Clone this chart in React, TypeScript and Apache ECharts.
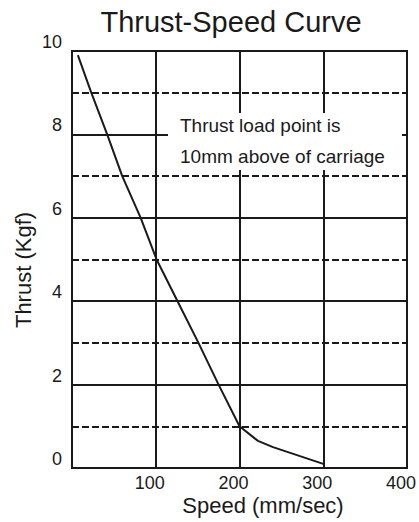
import React, { useEffect, useRef } from "react";
import * as echarts from "echarts";

const TITLE = "Thrust-Speed Curve";
const X_NAME = "Speed (mm/sec)";
const Y_NAME = "Thrust (Kgf)";
const NOTE_LINES = ["Thrust load point is", "10mm above of carriage"];

const speeds = [7, 23, 42, 60, 82, 101, 126, 151, 175, 200, 222, 240, 300];
const thrusts = [9.9, 9, 8, 7, 6, 5, 4, 3, 2, 1, 0.65, 0.5, 0.1];

const X_MIN = 0;
const X_MAX = 400;
const X_STEP = 100;
const Y_MIN = 0;
const Y_MAX = 10;
const Y_STEP = 2;

const INK = "#1a1a1a";
const FONT = "'Liberation Sans', Arial, sans-serif";

export default function App() {
  const ref = useRef<HTMLDivElement>(null);

  useEffect(() => {
    if (!ref.current) return;
    const chart = echarts.init(ref.current, undefined, { renderer: "svg" });
    const data = speeds.map((s, i) => [s, thrusts[i]]);
    chart.setOption({
      animation: false,
      backgroundColor: "#ffffff",
      textStyle: { fontFamily: FONT },
      title: {
        text: TITLE,
        left: 226,
        top: 2,
        textAlign: "center",
        textStyle: { fontSize: 29, fontWeight: "normal", color: INK, fontFamily: FONT },
      },
      grid: {
        left: 72,
        right: 12,
        top: 51,
        bottom: 54,
        containLabel: false,
        outerBoundsMode: "none",
        show: true,
        borderColor: INK,
        borderWidth: 2,
        backgroundColor: "transparent",
      },
      xAxis: {
        type: "value",
        min: X_MIN,
        max: X_MAX,
        interval: X_STEP,
        axisLine: { show: true, lineStyle: { color: INK, width: 2 } },
        axisTick: { show: false },
        axisLabel: {
          showMinLabel: false,
          fontSize: 18,
          lineHeight: 16,
          color: INK,
          margin: 7,
          padding: [0, 12, 0, 0],
          fontFamily: FONT,
        },
        splitLine: { show: true, lineStyle: { color: INK, width: 2, type: "solid" } },
      },
      yAxis: {
        type: "value",
        min: Y_MIN,
        max: Y_MAX,
        interval: Y_STEP,
        axisLine: { show: true, lineStyle: { color: INK, width: 2 } },
        axisTick: { show: false },
        minorTick: { show: false, splitNumber: 2 },
        axisLabel: {
          fontSize: 18,
          color: INK,
          margin: 10,
          verticalAlign: "bottom",
          lineHeight: 18,
          fontFamily: FONT,
        },
        splitLine: { show: true, lineStyle: { color: INK, width: 2, type: "solid" } },
        minorSplitLine: { show: true, lineStyle: { color: INK, width: 2, type: [7, 3] } },
      },
      graphic: [
        {
          type: "rect",
          z: 10,
          shape: { x: 168, y: 113, width: 234, height: 57 },
          style: { fill: "#ffffff" },
        },
        {
          type: "text",
          z: 11,
          x: 180,
          y: 125,
          style: {
            text: NOTE_LINES[0],
            fontSize: 19,
            fill: INK,
            fontFamily: FONT,
            verticalAlign: "middle",
          },
        },
        {
          type: "text",
          z: 11,
          x: 180,
          y: 156,
          style: {
            text: NOTE_LINES[1],
            fontSize: 19,
            fill: INK,
            fontFamily: FONT,
            verticalAlign: "middle",
          },
        },
        {
          type: "text",
          z: 11,
          x: 263,
          y: 505,
          style: {
            text: X_NAME,
            fontSize: 22,
            lineHeight: 20,
            fill: INK,
            fontFamily: FONT,
            align: "center",
            verticalAlign: "middle",
          },
        },
        {
          type: "text",
          z: 11,
          x: 23,
          y: 270,
          rotation: Math.PI / 2,
          style: {
            text: Y_NAME,
            fontSize: 22,
            fill: INK,
            fontFamily: FONT,
            align: "center",
            verticalAlign: "middle",
          },
        },
      ],
      series: [
        {
          type: "line",
          data,
          showSymbol: false,
          symbol: "none",
          smooth: false,
          z: 5,
          lineStyle: { color: INK, width: 2 },
        },
      ],
    });
    return () => chart.dispose();
  }, []);

  return (
    <div
      ref={ref}
      style={{ position: "fixed", left: 0, top: 0, width: 419, height: 522 }}
    />
  );
}
